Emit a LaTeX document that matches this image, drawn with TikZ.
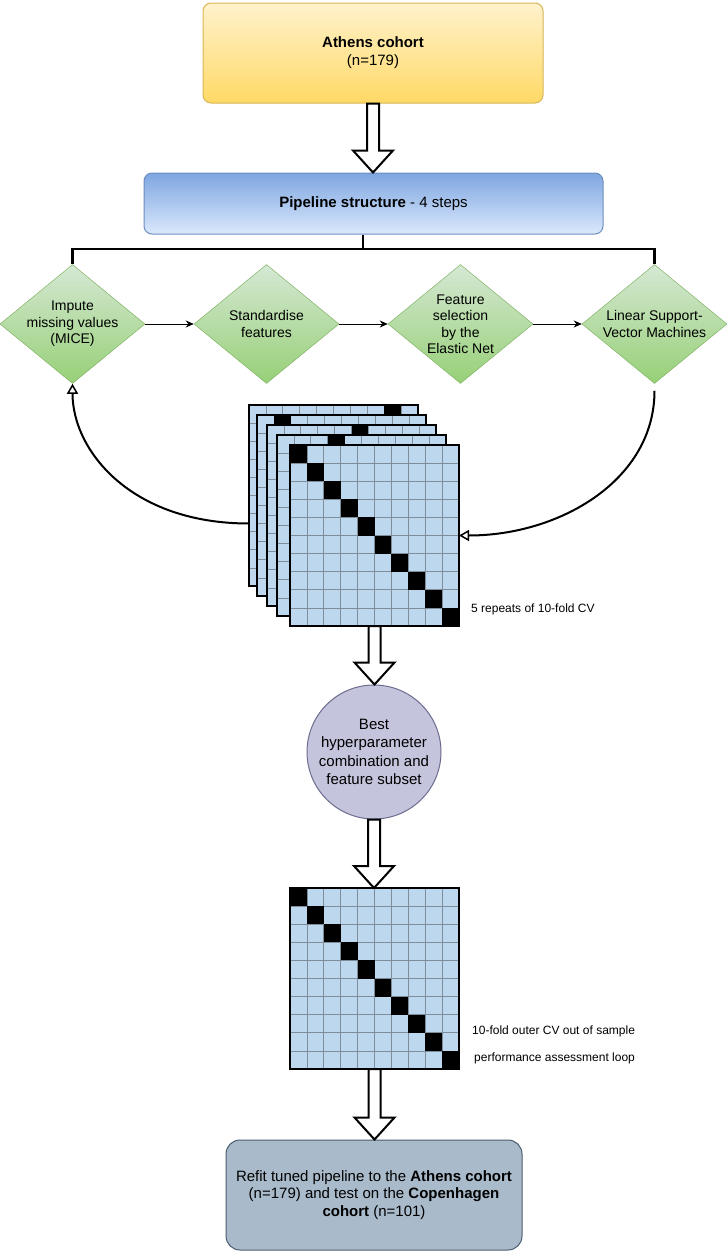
\documentclass[tikz,border=0pt]{standalone}
\usepackage{fontspec}
\setmainfont{Liberation Sans}
\usetikzlibrary{shapes.geometric,arrows.meta,calc}
\definecolor{athenstop}{HTML}{FFF2CC}
\definecolor{athensbot}{HTML}{FFD966}
\definecolor{athensline}{HTML}{D6B656}
\definecolor{pipetop}{HTML}{7EA6E0}
\definecolor{pipebot}{HTML}{DAE8FC}
\definecolor{pipeline}{HTML}{6C8EBF}
\definecolor{steptop}{HTML}{D5E8D4}
\definecolor{stepbot}{HTML}{97D077}
\definecolor{stepline}{HTML}{82B366}
\definecolor{cellblue}{HTML}{BDD7EE}
\definecolor{cellgrid}{HTML}{7F8C99}
\definecolor{bestfill}{HTML}{C4C4DD}
\definecolor{bestline}{HTML}{6E6C8E}
\definecolor{refitfill}{HTML}{A9BACA}
\definecolor{refitline}{HTML}{4A5D6E}
\newcommand\bigtext{\fontsize{15}{18}\selectfont}
\newcommand\steptext{\fontsize{14}{16.5}\selectfont}
\newcommand\notetext{\fontsize{12}{14}\selectfont}
\newcommand\fatarrow[2]{%
  \draw[hollowarrow] let \p1=(#1), \p2=(#2) in
    (\x1-6pt,\y1) -- (\x1-6pt,\y2+22pt) -- (\x1-20pt,\y2+22pt) -- (\x1,\y2)
    -- (\x1+20pt,\y2+22pt) -- (\x1+6pt,\y2+22pt) -- (\x1+6pt,\y1) -- cycle;}
\newcommand\cvcells[2]{%
  \begin{scope}[shift={(#1.north west)}]
    \foreach \k in {1,...,9}{
      \draw[gridline] (\k*16.9,0) -- ++(0,181);
      \draw[gridline] (0,\k*18.1) -- ++(169,0);}
    \foreach \c [count=\r from 0] in {#2}
      \fill (\c*16.9,\r*18.1) rectangle ++(16.9,18.1);
  \end{scope}
  \draw[line width=2pt] (#1.north west) rectangle (#1.south east);}
\tikzset{
  box/.style={draw, line width=1pt, rounded corners=8pt, align=center, font=\bigtext},
  stepbox/.style={diamond, draw=stepline, line width=.5pt, top color=steptop,
    bottom color=stepbot, minimum width=145pt, minimum height=119pt, inner sep=0pt},
  steplabel/.style={align=center, font=\steptext},
  steparrow/.style={-{Stealth[length=8pt,width=7pt]}, line width=.8pt},
  bar/.style={line width=2.5pt},
  looparrow/.style={-{Triangle[open,length=10pt,width=11pt,line width=1.5pt]}, line width=2pt},
  hollowarrow/.style={draw=black, fill=white, line width=2pt, line join=miter},
  note/.style={font=\notetext, inner sep=0pt, anchor=west},
  cvgrid/.style={fill=cellblue, inner sep=0pt, outer sep=0pt,
    minimum width=169pt, minimum height=181pt},
  gridline/.style={cellgrid, line width=.8pt}
}
\begin{document}
\begin{tikzpicture}[x=1pt, y=-1pt]
  \useasboundingbox (0,0) rectangle (727,1253);

  \node[box, draw=athensline, top color=athenstop, bottom color=athensbot,
    minimum width=340pt, minimum height=100pt] at (373,53) (athens)
    {\textbf{Athens cohort}\\(n=179)};
  \node[box, draw=pipeline, top color=pipetop, bottom color=pipebot,
    minimum width=459pt, minimum height=61pt] at (373.5,203.5) (pipeline)
    {\textbf{Pipeline structure} - 4 steps};
  \fatarrow{athens.south}{pipeline.north}

  \node[stepbox, label={[steplabel]center:Impute\\missing values\\(MICE)}]
    at (72.5,324) (impute) {};
  \node[stepbox, label={[steplabel]center:Standardise\\features}]
    at (266.5,324) (standard) {};
  \node[stepbox, label={[steplabel]center:Feature\\selection\\by the\\Elastic Net}]
    at (460.5,324) (elastic) {};
  \node[stepbox, label={[steplabel]center:Linear Support-\\Vector Machines}]
    at (654.5,324) (svm) {};

  \draw[bar] ([xshift=-10.5pt]pipeline.south) -- ++(0,14.5) coordinate (split);
  \draw[bar] (impute.north) |- (split) -| (svm.north);
  \draw[steparrow] (impute.east) -- (standard.west);
  \draw[steparrow] (standard.east) -- (elastic.west);
  \draw[steparrow] (elastic.east) -- (svm.west);

  \foreach \cx/\cy/\hit [count=\n] in
    {333.5/495.5/8, 341.5/505.5/1, 351.5/515.5/5, 361.5/525.5/3}{
    \node[cvgrid] at (\cx,\cy) (cvback\n) {};
    \cvcells{cvback\n}{\hit}}
  \node[cvgrid] at (374.5,535.5) (cvfront) {};
  \cvcells{cvfront}{0,...,9}
  \node[note] at (471,609) (repeats) {5 repeats of 10-fold CV};

  \draw[looparrow] ([yshift=-28pt]cvback1.west)
    .. controls (130,523.5) and (72.5,450) .. (impute.south);
  \draw[looparrow, shorten <=7pt] (svm.south)
    .. controls (654.5,480) and (560,535.5) .. (cvfront.east);

  \node[circle, draw=bestline, line width=1pt, fill=bestfill, minimum size=134pt,
    inner sep=0pt, align=center, font=\fontsize{15}{18.5}\selectfont]
    at (374,752) (best) {Best\\hyperparameter\\combination and\\feature subset};
  \fatarrow{cvfront.south}{best.north}

  \node[cvgrid] at (374.5,978.5) (outercv) {};
  \cvcells{outercv}{0,...,9}
  \fatarrow{best.south}{outercv.north}
  \node[note] at (472,1031) (outerlabel) {10-fold outer CV out of sample};
  \node[note] at (474,1058) (looplabel) {performance assessment loop};

  \node[box, draw=refitline, fill=refitfill, rounded corners=14pt,
    font=\fontsize{15}{17.5}\selectfont,
    minimum width=296pt, minimum height=110pt] at (374,1195) (refit)
    {Refit tuned pipeline to the \textbf{Athens cohort}\\(n=179) and test on the
     \textbf{Copenhagen}\\\textbf{cohort} (n=101)};
  \fatarrow{outercv.south}{refit.north}
\end{tikzpicture}
\end{document}
